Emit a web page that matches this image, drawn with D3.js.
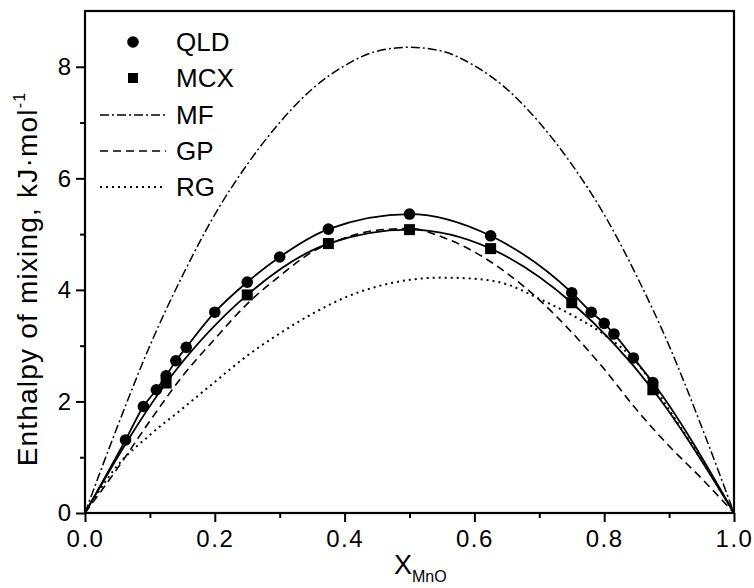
<!DOCTYPE html>
<html><head><meta charset="utf-8">
<script src="https://cdn.jsdelivr.net/npm/d3@7"></script>
<style>
body{margin:0;background:#fff;}
text{font-family:"Liberation Sans",Arial,Helvetica,sans-serif;fill:#000;}
</style></head>
<body>
<svg id="chart" width="754" height="588"></svg>
<script>
// ---- data ----
const qldX = [0.0625, 0.09, 0.11, 0.125, 0.14, 0.156, 0.2, 0.25, 0.3, 0.375, 0.5, 0.625, 0.75, 0.78, 0.8, 0.815, 0.845, 0.875];
const qldY = [1.31, 1.91, 2.21, 2.46, 2.73, 2.97, 3.60, 4.14, 4.59, 5.09, 5.36, 4.97, 3.95, 3.60, 3.40, 3.21, 2.78, 2.34];
const mcxX = [0.125, 0.25, 0.375, 0.5, 0.625, 0.75, 0.875];
const mcxY = [2.33, 3.91, 4.83, 5.08, 4.74, 3.77, 2.21];
const curveX = [0, 0.05, 0.1, 0.15, 0.2, 0.25, 0.3, 0.35, 0.4, 0.45, 0.5, 0.55, 0.6, 0.65, 0.7, 0.75, 0.8, 0.85, 0.9, 0.95, 1.0];
const mfY = [0, 1.55, 3.0, 4.25, 5.35, 6.25, 7.0, 7.6, 8.02, 8.28, 8.35, 8.28, 8.02, 7.6, 7.0, 6.25, 5.35, 4.25, 3.0, 1.55, 0];
const gpY = [0, 0.8, 1.65, 2.45, 3.12, 3.75, 4.25, 4.68, 4.93, 5.07, 5.1, 4.95, 4.68, 4.3, 3.82, 3.24, 2.58, 1.85, 1.2, 0.62, 0];
const rgY = [0, 0.85, 1.4, 1.87, 2.35, 2.82, 3.22, 3.57, 3.86, 4.06, 4.18, 4.22, 4.2, 4.1, 3.84, 3.55, 3.2, 2.7, 1.85, 0.95, 0];
const xTicks = [0, 0.2, 0.4, 0.6, 0.8, 1.0];
const yTicks = [0, 2, 4, 6, 8];
const legendLabels = ["QLD", "MCX", "MF", "GP", "RG"];

// ---- layout ----
const svg = d3.select("#chart");
const L = 85, R = 734, T = 11, B = 513;
const x = d3.scaleLinear().domain([0, 1]).range([L, R]);
const y = d3.scaleLinear().domain([0, 9]).range([B, T]);

// curves
const line = d3.line().x(d => x(d[0])).y(d => y(d[1])).curve(d3.curveMonotoneX);
const zipC = ys => curveX.map((v, i) => [v, ys[i]]);
const styles = {
  MF: "9,3,2,3",
  GP: "8,5",
  RG: "2,4"
};
svg.append("path").attr("d", line(zipC(mfY))).attr("fill", "none").attr("stroke", "#000").attr("stroke-width", 1.5).attr("stroke-dasharray", styles.MF);
svg.append("path").attr("d", line(zipC(gpY))).attr("fill", "none").attr("stroke", "#000").attr("stroke-width", 1.6).attr("stroke-dasharray", styles.GP);
svg.append("path").attr("d", line(zipC(rgY))).attr("fill", "none").attr("stroke", "#000").attr("stroke-width", 2).attr("stroke-dasharray", styles.RG);

const qldPts = qldX.map((v, i) => [v, qldY[i]]);
const mcxPts = mcxX.map((v, i) => [v, mcxY[i]]);
svg.append("path").attr("d", line([[0, 0], ...qldPts, [1, 0]])).attr("fill", "none").attr("stroke", "#000").attr("stroke-width", 1.8);
svg.append("path").attr("d", line([[0, 0], ...mcxPts, [1, 0]])).attr("fill", "none").attr("stroke", "#000").attr("stroke-width", 1.8);

svg.selectAll("circle.q").data(qldPts).enter().append("circle")
  .attr("cx", d => x(d[0])).attr("cy", d => y(d[1])).attr("r", 5.8).attr("fill", "#000");
svg.selectAll("rect.m").data(mcxPts).enter().append("rect")
  .attr("x", d => x(d[0]) - 5.5).attr("y", d => y(d[1]) - 5.5).attr("width", 11).attr("height", 11).attr("fill", "#000");

// axes
const xAxis = svg.append("g").attr("transform", `translate(0,${B})`)
  .call(d3.axisBottom(x).tickValues(xTicks).tickFormat(d3.format(".1f")).tickSize(9).tickPadding(8));
const xMinor = svg.append("g").attr("transform", `translate(0,${B})`)
  .call(d3.axisBottom(x).tickValues([0.1, 0.3, 0.5, 0.7, 0.9]).tickFormat("").tickSize(5));
const yAxis = svg.append("g").attr("transform", `translate(${L},0)`)
  .call(d3.axisLeft(y).tickValues(yTicks).tickFormat(d3.format("d")).tickSize(9).tickPadding(5));
const yMinor = svg.append("g").attr("transform", `translate(${L},0)`)
  .call(d3.axisLeft(y).tickValues([1, 3, 5, 7]).tickFormat("").tickSize(5));
[xAxis, xMinor, yAxis, yMinor].forEach(g => {
  g.select(".domain").remove();
  g.selectAll("line").attr("stroke", "#000").attr("stroke-width", 2);
});
xAxis.selectAll("text").attr("font-size", 24).attr("letter-spacing", 1.5).attr("font-family", "Liberation Sans, Arial, sans-serif");
yAxis.selectAll("text").attr("font-size", 24).attr("font-family", "Liberation Sans, Arial, sans-serif");

// frame
svg.append("rect").attr("x", L).attr("y", T).attr("width", R - L).attr("height", B - T)
  .attr("fill", "none").attr("stroke", "#000").attr("stroke-width", 2.2);

// legend
const lg = svg.append("g");
const rowY = [42, 78, 115, 151, 187];
lg.append("circle").attr("cx", 133).attr("cy", rowY[0]).attr("r", 5.8).attr("fill", "#000");
lg.append("rect").attr("x", 128).attr("y", rowY[1] - 5).attr("width", 10).attr("height", 10).attr("fill", "#000");
[["MF", styles.MF, 1.5], ["GP", styles.GP, 1.6], ["RG", styles.RG, 2]].forEach((s, i) => {
  lg.append("line").attr("x1", 100).attr("x2", 166).attr("y1", rowY[i + 2]).attr("y2", rowY[i + 2])
    .attr("stroke", "#000").attr("stroke-width", s[2]).attr("stroke-dasharray", s[1]);
});
legendLabels.forEach((t, i) => {
  lg.append("text").attr("x", 176).attr("y", rowY[i] + 9).attr("font-size", 26).text(t);
});

// axis titles
const yl = svg.append("text").attr("transform", "translate(37,279) rotate(-90)")
  .attr("text-anchor", "middle").attr("font-size", 28).attr("letter-spacing", 1.2);
yl.append("tspan").text("Enthalpy of mixing, kJ\u00B7mol");
yl.append("tspan").attr("font-size", 16).attr("dy", -12).text("-1");

const xl = svg.append("text").attr("x", 394).attr("y", 574).attr("font-size", 27);
xl.append("tspan").text("X");
xl.append("tspan").attr("font-size", 16).attr("dy", 8).text("MnO");
</script>
</body></html>
